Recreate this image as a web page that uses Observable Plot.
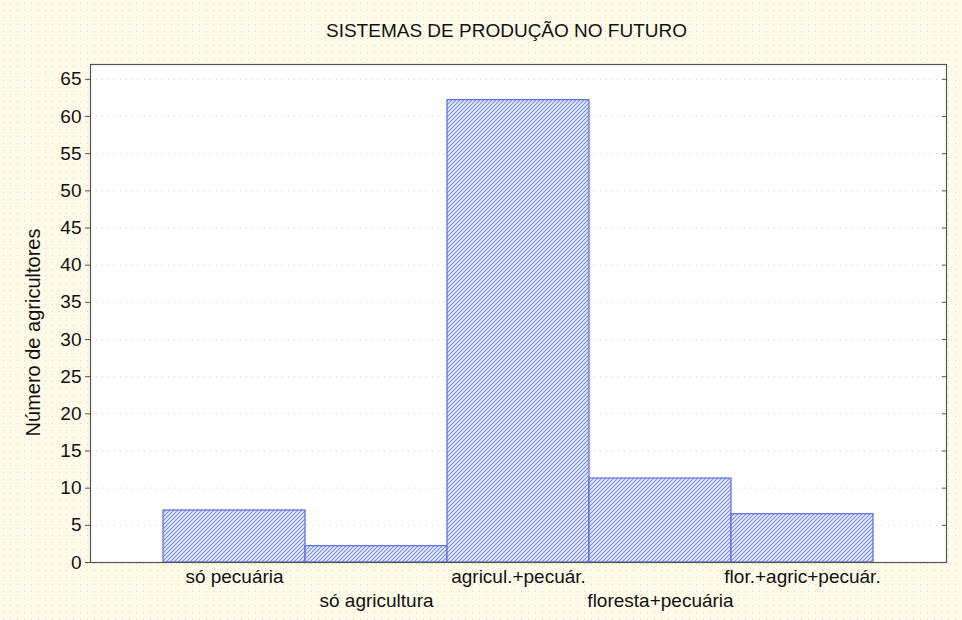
<!DOCTYPE html>
<html>
<head>
<meta charset="utf-8">
<script src="https://cdn.jsdelivr.net/npm/d3@7"></script>
<script src="https://cdn.jsdelivr.net/npm/@observablehq/plot@0.6"></script>
<style>
  html, body { margin: 0; padding: 0; }
  body {
    width: 962px; height: 620px; overflow: hidden;
    background-color: #fdfbe8;
    background-image: radial-gradient(circle, #eccbd6 0.6px, transparent 0.9px);
    background-size: 7px 7px;
    font-family: "Liberation Sans", Arial, sans-serif;
  }
</style>
</head>
<body>
<div id="chart"></div>
<script>
const title = "SISTEMAS DE PRODUÇÃO NO FUTURO";
const yLabel = "Número de agricultores";
const categories = ["só pecuária", "só agricultura", "agricul.+pecuár.", "floresta+pecuária", "flor.+agric+pecuár."];
const values = [7, 2.2, 62.2, 11.3, 6.5];
const yTicks = [0, 5, 10, 15, 20, 25, 30, 35, 40, 45, 50, 55, 60, 65];

const data = categories.map((c, i) => ({category: c, value: values[i], idx: i}));

const svg = Plot.plot({
  width: 962,
  height: 620,
  marginLeft: 90,
  marginRight: 16,
  marginTop: 64,
  marginBottom: 58,
  style: {background: "transparent", fontFamily: "'Liberation Sans', Arial, sans-serif", fontSize: "19px", color: "#111"},
  x: {domain: categories, paddingInner: 0, paddingOuter: 0.5, axis: null},
  y: {domain: [0, 67], ticks: yTicks, label: null},
  marks: [
    Plot.frame({fill: "white", stroke: "none"}),
    Plot.gridY(yTicks, {stroke: "#c4c4c4", strokeOpacity: 0.8, strokeDasharray: "1,5"}),
    Plot.barY(data, {x: "category", y: "value", fill: "url(#hatch)", stroke: "#5a6ed6", strokeWidth: 1.2, inset: 0}),
    Plot.frame({stroke: "#555", strokeWidth: 1.2}),
    Plot.axisY(yTicks, {anchor: "left", tickSize: 5, tickPadding: 4, stroke: "#555", fontSize: 19, fill: "#111", label: null}),
    Plot.axisY(yTicks, {anchor: "right", tickSize: -5, tickFormat: () => "", stroke: "#555", label: null}),
    Plot.text(data.filter(d => d.idx % 2 === 0), {x: "category", text: "category", frameAnchor: "bottom", dy: 20, fontSize: 19, fill: "#111"}),
    Plot.text(data.filter(d => d.idx % 2 === 1), {x: "category", text: "category", frameAnchor: "bottom", dy: 44, fontSize: 19, fill: "#111"}),
    Plot.text([title], {frameAnchor: "top", dx: -12, dy: -41, fontSize: 19, fill: "#111"}),
    Plot.text([yLabel], {frameAnchor: "left", textAnchor: "middle", dx: -57, dy: 19, rotate: -90, fontSize: 20, fill: "#111"})
  ]
});

const defs = d3.select(svg).insert("defs", ":first-child");
const pat = defs.append("pattern")
  .attr("id", "hatch")
  .attr("patternUnits", "userSpaceOnUse")
  .attr("width", 4).attr("height", 4);
pat.append("rect").attr("width", 4).attr("height", 4).attr("fill", "#e9edfc");
pat.append("path")
  .attr("d", "M0,4 L4,0 M-1,1 L1,-1 M3,5 L5,3")
  .attr("stroke", "#7a8ee0").attr("stroke-width", 1.15);

document.getElementById("chart").appendChild(svg);
</script>
</body>
</html>
